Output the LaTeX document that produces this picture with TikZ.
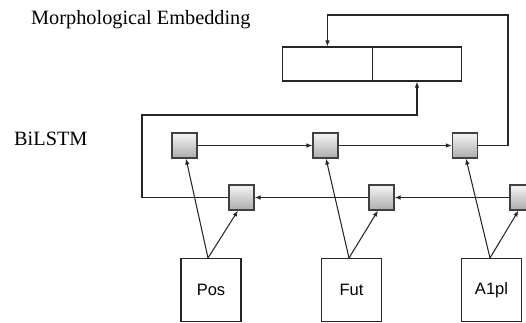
\documentclass[tikz,border=0pt]{standalone}
\usepackage{fontspec}
\setmainfont{Liberation Serif}
\setsansfont{Liberation Sans}
\usetikzlibrary{arrows.meta}
\begin{document}
\begin{tikzpicture}[x=1pt,y=-1pt,
  wire/.style={draw=black!85, line width=1.05pt},
  arr/.style={wire, -{Latex[length=6pt,width=4.5pt]}},
  cell/.style={draw=black!75, line width=1.05pt, shade, top color=gray!8, bottom color=gray!65,
               minimum width=25pt, minimum height=25pt, inner sep=0pt},
  inbox/.style={draw=black!85, line width=1.05pt, fill=white, minimum width=60pt, minimum height=63pt,
                inner sep=0pt, font=\sffamily\fontsize{16.5}{18}\selectfont},
  embpart/.style={draw=black!85, line width=1.05pt, minimum width=89.5pt, minimum height=34pt, inner sep=0pt},
  label/.style={anchor=base west, inner sep=0pt, font=\fontsize{20.3}{23}\selectfont}
]
\useasboundingbox (0,0) rectangle (526,322);
\clip (0,0) rectangle (526,322);

% titles
\node[label] (tEmb) at (31,24.5) {Morphological Embedding};
\node[label] (tBi) at (14,145) {BiLSTM};

% embedding vector, two halves
\node[embpart] (e1) at (327.5,64) {};
\node[embpart] (e2) at (417,64) {};

% forward LSTM cells
\node[cell] (f1) at (184.5,145.5) {};
\node[cell] (f2) at (325.5,145.5) {};
\node[cell] (f3) at (465,145.5) {};

% backward LSTM cells
\node[cell] (b1) at (241.5,197.5) {};
\node[cell] (b2) at (381.5,197.5) {};
\node[cell] (b3) at (522.5,197.5) {};

% input tags
\node[inbox] (pos) at (211,290) {Pos};
\node[inbox] (fut) at (351.5,290) {Fut};
\node[inbox] (apl) at (491.5,290) {A1pl};

% routing corners
\coordinate (cR) at (508,15);
\coordinate (cL) at (142,115);

% forward chain
\draw[arr] (f1) -- (f2);
\draw[arr] (f2) -- (f3);
% backward chain
\draw[arr] (b3) -- (b2);
\draw[arr] (b2) -- (b1);

% final states into the embedding
\draw[arr] (f3.east) -- (cR |- f3.east) -- (cR) -- (e1.north |- cR) -- (e1.north);
\draw[arr] (b1.west) -- (cL |- b1.west) -- (cL) -- (e2.south |- cL) -- (e2.south);

% inputs to both directions
\draw[arr] ([xshift=-3pt]pos.north) -- ([xshift=1.5pt]f1.south);
\draw[arr] ([xshift=-3pt]pos.north) -- ([xshift=-3.5pt]b1.south);
\draw[arr] ([xshift=-2.5pt]fut.north) -- ([xshift=0.5pt]f2.south);
\draw[arr] ([xshift=-2.5pt]fut.north) -- ([xshift=-3.5pt]b2.south);
\draw[arr] ([xshift=-1.5pt]apl.north) -- ([xshift=1pt]f3.south);
\draw[arr] ([xshift=-1.5pt]apl.north) -- ([xshift=-4pt]b3.south);
\end{tikzpicture}
\end{document}
